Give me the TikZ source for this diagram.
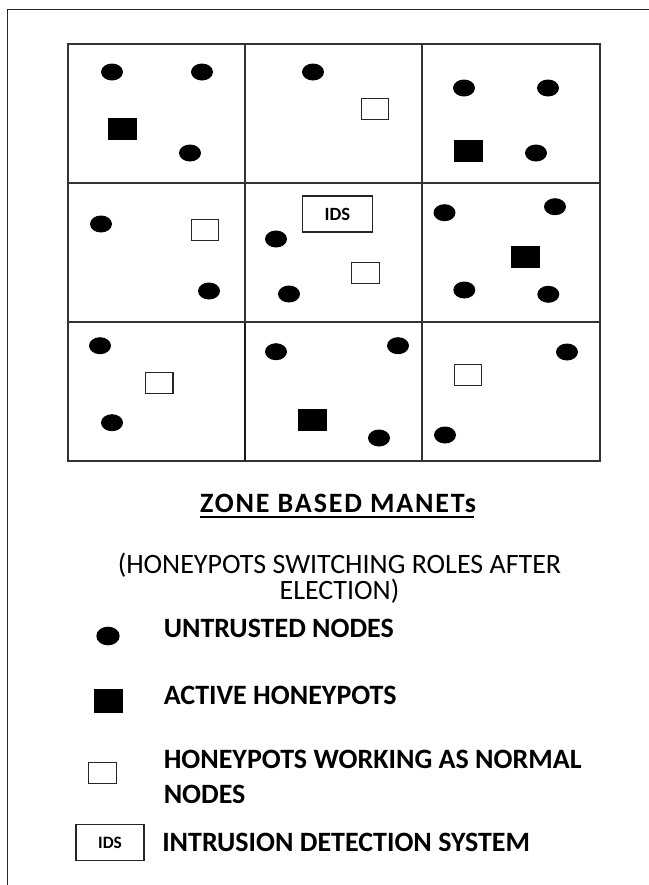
\documentclass[tikz,border=0pt]{standalone}
\usepackage{fontspec}
\setmainfont{Carlito}
\usetikzlibrary{shapes.geometric}
\begin{document}
\begin{tikzpicture}[x=0.75pt,y=-0.75pt,
  dot/.style={ellipse,fill=black,draw=none,minimum width=16.5pt,minimum height=12.75pt,inner sep=0pt},
  legdot/.style={ellipse,fill=black,draw=none,minimum width=17.5pt,minimum height=14pt,inner sep=0pt},
  hpon/.style={rectangle,fill=black,draw=none,minimum width=21.75pt,minimum height=16.5pt,inner sep=0pt},
  hpoff/.style={rectangle,fill=white,draw=black!85,line width=0.8pt,minimum width=20.5pt,minimum height=15.5pt,inner sep=0pt},
  idsbox/.style={rectangle,draw=black!85,line width=0.8pt,minimum width=52pt,minimum height=27pt,inner sep=0pt,font=\fontsize{14}{16}\selectfont\bfseries},
  gridline/.style={draw=black!80,line width=1pt},
  legtext/.style={anchor=base west,inner sep=0pt,font=\fontsize{21}{25}\selectfont\bfseries}
]
\useasboundingbox (0,0) rectangle (649,885);
% outer frame
\coordinate (fbl) at (7.7,885);
\coordinate (ftl) at (7.7,9.3);
\coordinate (ftr) at (649,9.3);
\draw[black!85,line width=0.9pt] (fbl) -- (ftl) -- (ftr);
% grid
\coordinate (g00) at (68,44);
\coordinate (g11) at (600,461);
\draw[gridline] (g00) rectangle (g11);
\draw[gridline] (245,44) -- (245,322);
\draw[black!90,line width=1.7pt] (245,322) -- (245,461);
\draw[gridline] (422,44) -- (422,461);
\draw[gridline] (68,183) -- (600,183);
\draw[gridline] (68,322) -- (600,322);
% cell (1,1)
\node[dot] (a1) at (112,72) {};
\node[dot] (a2) at (202,72) {};
\node[dot] (a3) at (190,153) {};
\node[hpon] (a4) at (122.5,129) {};
% cell (1,2)
\node[dot] (b1) at (313,72) {};
\node[hpoff] (b2) at (375,109) {};
% cell (1,3)
\node[dot] (c1) at (464,88) {};
\node[dot] (c2) at (548,88) {};
\node[dot] (c3) at (536,153) {};
\node[hpon] (c4) at (468,150.5) {};
% cell (2,1)
\node[dot] (d1) at (101,224) {};
\node[hpoff] (d2) at (205,230) {};
\node[dot] (d3) at (209,291) {};
% cell (2,2)
\node[idsbox] (e0) at (337.5,214) {IDS};
\node[dot] (e1) at (276,239) {};
\node[dot] (e2) at (289,294) {};
\node[hpoff] (e3) at (365.5,273) {};
% cell (2,3)
\node[dot] (f1) at (444.5,212.7) {};
\node[dot] (f2) at (555,206.7) {};
\node[dot] (f3) at (464.3,290) {};
\node[dot] (f4) at (548.3,294.3) {};
\node[hpon] (f5) at (525,257) {};
% cell (3,1)
\node[dot] (g1) at (100,345.7) {};
\node[hpoff] (g2) at (159.3,383) {};
\node[dot] (g3) at (112,422.7) {};
% cell (3,2)
\node[dot] (h1) at (276,351.7) {};
\node[dot] (h2) at (398,345.7) {};
\node[hpon] (h3) at (312.7,420) {};
\node[dot] (h4) at (379,438) {};
% cell (3,3)
\node[hpoff] (i1) at (468,375) {};
\node[dot] (i2) at (567,352) {};
\node[dot] (i3) at (445,435) {};
% title
\node[anchor=base,inner sep=0pt,font=\fontsize{21}{25}\selectfont\bfseries\addfontfeature{LetterSpace=6.5}] (title) at (338,512) {ZONE BASED MANETs};
\draw[black,line width=1.3pt] ([yshift=-4pt]title.base west) -- ([yshift=-4pt,xshift=-1.5pt]title.base east);
\node[anchor=base,inner sep=0pt,align=center,font=\fontsize{21}{18}\selectfont] (sub) at (339.5,599) {(HONEYPOTS SWITCHING ROLES AFTER\\ELECTION)};
% legend
\node[legdot] (l1) at (108,636) {};
\node[legtext] (t1) at (163.5,637) {UNTRUSTED NODES};
\node[hpon,minimum height=18pt] (l2) at (108.6,701) {};
\node[legtext] (t2) at (163.5,704) {ACTIVE HONEYPOTS};
\node[hpoff] (l3) at (102.5,773) {};
\node[legtext] (t3) at (163.5,768.5) {HONEYPOTS WORKING AS NORMAL};
\node[legtext] (t3b) at (163.5,803.5) {NODES};
\node[idsbox,minimum width=51pt,minimum height=27.5pt,font=\fontsize{13}{15}\selectfont\bfseries] (l4) at (110,842.4) {IDS};
\node[legtext] (t4) at (162,851) {INTRUSION DETECTION SYSTEM};
\end{tikzpicture}
\end{document}
